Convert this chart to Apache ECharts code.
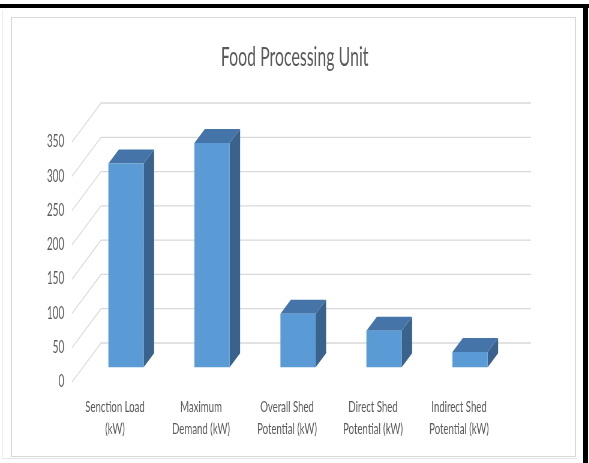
<!DOCTYPE html>
<html>
<head>
<meta charset="utf-8">
<script src="https://cdn.jsdelivr.net/npm/echarts@6/dist/echarts.min.js"></script>
<style>
  html, body { margin: 0; padding: 0; width: 589px; height: 463px; overflow: hidden; background: #fff; }
  #shade { position: absolute; left: 2px; top: 10px; width: 574px; height: 448px; border-left: 1px solid #efefef; border-bottom: 1px solid #e8e8e8; }
  #frame { position: absolute; left: 11px; top: 17px; width: 563px; height: 438px; border: 1px solid #d9d9d9; }
  #topbar { position: absolute; left: 0; top: 4px; width: 589px; height: 4px; background: #000; }
  #rightbar { position: absolute; left: 583px; top: 4px; width: 5px; height: 459px; background: #000; }
  /* the chart is laid out wide and squeezed horizontally, giving the tall narrow lettering */
  #chart { position: absolute; left: 0; top: 0; width: 982px; height: 463px; transform: scaleX(0.6); transform-origin: 0 0; }
</style>
</head>
<body>
<div id="shade"></div>
<div id="frame"></div>
<div id="topbar"></div>
<div id="rightbar"></div>
<div id="chart"></div>
<script>
// Chart data
const TITLE = 'Food Processing Unit';
const CATEGORIES = [
  'Senction Load\n(kW)',
  'Maximum\nDemand (kW)',
  'Overall Shed\nPotential (kW)',
  'Direct Shed\nPotential (kW)',
  'Indirect Shed\nPotential (kW)'
];
const VALUES = [297, 327, 78, 53, 22];
const Y_TICKS = [0, 50, 100, 150, 200, 250, 300, 350];

// Oblique 3D projection (in the wide, unsqueezed layout space)
const SQUEEZE = 0.6;
const DEPTH_X = 29 / SQUEEZE;
const DEPTH_Y = -39;
const F1 = 0.38;          // bar front face depth fraction
const F2 = 0.74;          // bar back face depth fraction
const BAR_RATIO = 0.41;   // bar width as a fraction of the category band

const FRONT = '#5b9bd5';
const TOP = '#4474a8';
const SIDE = '#39638c';
const GRID = '#d9d9d9';
const TEXT = '#595959';
const FONT = 'Lato';

const chart = echarts.init(document.getElementById('chart'), null, { renderer: 'canvas' });

function renderWall(params, api) {
  const v = api.value(1);
  const p = api.coord([0, v]);
  const band = api.size([1, 0])[0];
  const x0 = p[0] - band / 2;
  const x1 = x0 + band * CATEGORIES.length;
  return {
    type: 'polyline',
    shape: { points: [[x0, p[1]], [x0 + DEPTH_X, p[1] + DEPTH_Y], [x1 + DEPTH_X, p[1] + DEPTH_Y]] },
    style: { stroke: GRID, lineWidth: 1.3, fill: null }
  };
}

function renderBar(params, api) {
  const i = api.value(0);
  const v = api.value(1);
  const base = api.coord([i, 0]);
  const top = api.coord([i, v]);
  const band = api.size([1, 0])[0];
  const w = band * BAR_RATIO;
  const ox = DEPTH_X * F1, oy = DEPTH_Y * F1;
  const bx = DEPTH_X * (F2 - F1), by = DEPTH_Y * (F2 - F1);
  const xl = base[0] - w / 2 + ox, xr = xl + w;
  const yt = top[1] + oy, yb = base[1] + oy;
  return {
    type: 'group',
    children: [
      { type: 'polygon', shape: { points: [[xr, yt], [xr + bx, yt + by], [xr + bx, yb + by], [xr, yb]] }, style: { fill: SIDE } },
      { type: 'polygon', shape: { points: [[xl, yt], [xr, yt], [xr + bx, yt + by], [xl + bx, yt + by]] }, style: { fill: TOP } },
      { type: 'rect', shape: { x: xl, y: yt, width: w, height: yb - yt }, style: { fill: FRONT } }
    ]
  };
}

chart.setOption({
  animation: false,
  backgroundColor: 'transparent',
  title: {
    text: TITLE,
    left: 'center',
    top: 41,
    padding: 0,
    textStyle: { fontFamily: FONT, fontSize: 26.5, fontWeight: 'normal', color: TEXT, lineHeight: 32 }
  },
  grid: { left: 120, right: 145.3, top: 142, bottom: 81, containLabel: false },
  xAxis: {
    type: 'category',
    data: CATEGORIES,
    axisLine: { show: false },
    axisTick: { show: false },
    splitLine: { show: false },
    axisLabel: { interval: 0, margin: 14, fontFamily: FONT, fontSize: 16, lineHeight: 22, color: TEXT }
  },
  yAxis: {
    type: 'value',
    min: 0,
    max: 350,
    interval: 50,
    axisLine: { show: false },
    axisTick: { show: false },
    splitLine: { show: false },
    axisLabel: { margin: 13, fontFamily: FONT, fontSize: 16.5, color: TEXT }
  },
  series: [
    {
      type: 'custom',
      name: 'walls',
      z: 1,
      silent: true,
      renderItem: renderWall,
      encode: { x: 0, y: 1 },
      data: Y_TICKS.map(t => [0, t])
    },
    {
      type: 'custom',
      name: 'bars',
      z: 2,
      renderItem: renderBar,
      encode: { x: 0, y: 1 },
      data: VALUES.map((v, i) => [i, v])
    }
  ]
});
</script>
</body>
</html>
